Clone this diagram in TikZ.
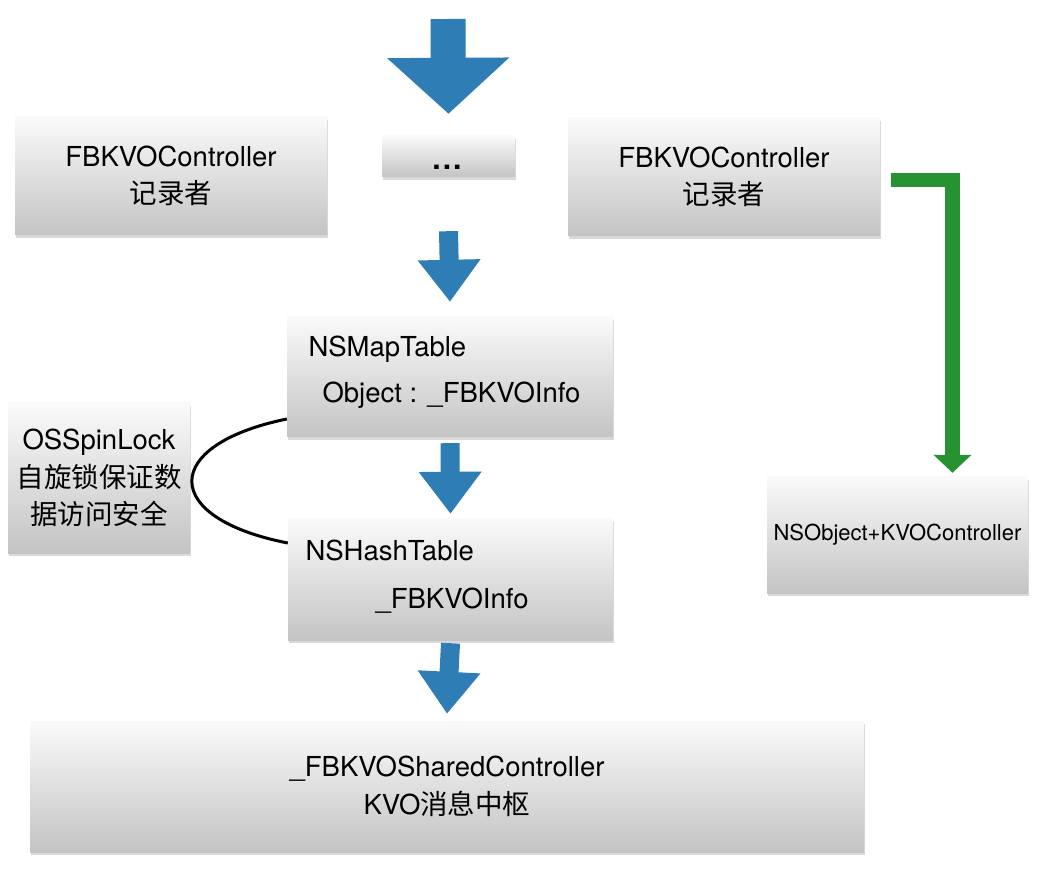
\documentclass[tikz,border=0pt]{standalone}
\usepackage{fontspec}
\setmainfont{TeX Gyre Heros}
\newfontfamily\cjk{Noto Sans CJK SC}
\usetikzlibrary{arrows.meta, shadows}

\begin{document}
\begin{tikzpicture}[x=1pt, y=-1pt]
  % Define colors
  \definecolor{boxtop}{RGB}{250,250,250}
  \definecolor{boxbottom}{RGB}{196,196,196}
  \definecolor{flowblue}{RGB}{47,125,181}
  \definecolor{callgreen}{RGB}{38,147,48}

  \tikzset{
    panel/.style={rectangle, inner sep=0pt, top color=boxtop, bottom color=boxbottom,
      drop shadow={shadow xshift=1pt, shadow yshift=-3pt, opacity=0.3}},
    caption/.style={font=\fontsize{27.5}{37.5}\selectfont, align=center},
    flow/.style={flowblue, line width=19pt, -{Triangle[length=42pt, width=60pt]}},
    call/.style={callgreen, line width=14.5pt, -{Triangle[length=18pt, width=37pt]}},
  }

  \useasboundingbox (0,0) rectangle (1042,874);

  % Top row - recorders
  \node[panel, caption, minimum width=312pt, minimum height=118pt] (recA) at (171,176) {FBKVOController\\{\cjk 记录者}};
  \node[panel, minimum width=133pt, minimum height=41pt] (more) at (448.5,156.5) {};
  \node[anchor=base, font=\fontsize{30}{30}\selectfont\bfseries] (moretext) at (447,170) {.\kern2pt.\kern2pt.};
  \node[panel, caption, minimum width=312pt, minimum height=118pt] (recB) at (724,177) {FBKVOController\\{\cjk 记录者}};

  % Tables
  \node[panel, minimum width=326pt, minimum height=120pt] (map) at (450,377) {};
  \node[caption, anchor=base west] (maptitle) at (305,357) {NSMapTable};
  \node[caption, anchor=base west] (mapentry) at (319,403) {Object : \_FBKVOInfo};

  \node[panel, minimum width=325pt, minimum height=122pt] (hash) at (450.5,579) {};
  \node[caption, anchor=base west] (hashtitle) at (302,560) {NSHashTable};
  \node[caption, anchor=base west] (hashentry) at (372,608) {\_FBKVOInfo};

  % Lock
  \node[panel, caption, minimum width=182pt, minimum height=150pt] (lock) at (99,478) {OSSpinLock\\{\cjk 自旋锁保证数}\\{\cjk 据访问安全}};
  \draw[line width=3pt] ([yshift=-42pt]map.west) .. controls (160,445) and (160,518) .. ([yshift=36pt]hash.west);

  % Category and shared controller
  \node[panel, caption, font=\fontsize{22}{26}\selectfont, minimum width=261pt, minimum height=116pt] (nso) at (897.5,535) {NSObject+KVOController};
  \node[panel, caption, minimum width=834pt, minimum height=131pt] (shared) at (447,786.5) {\_FBKVOSharedController\\KVO{\cjk 消息中枢}};

  % Blue flow arrows
  \coordinate (entry) at (448,19);
  \draw[flow, line width=35pt, -{Triangle[length=56pt, width=119pt]}] (entry) -- ([yshift=22pt]more.north);
  \draw[flow] ([yshift=-54pt]more.south) -- ([yshift=15pt]map.north);
  \draw[flow] ([yshift=-6pt]map.south) -- ([yshift=4pt]hash.north);
  \draw[flow] ([yshift=-3pt]hash.south) -- ([yshift=7pt]shared.north);

  % Green arrow
  \coordinate (callturn) at (952.5,180);
  \draw[call, shorten >=4pt] ([xshift=11pt, yshift=-3pt]recB.east) -- (callturn) -- (callturn |- nso.north);
\end{tikzpicture}
\end{document}
